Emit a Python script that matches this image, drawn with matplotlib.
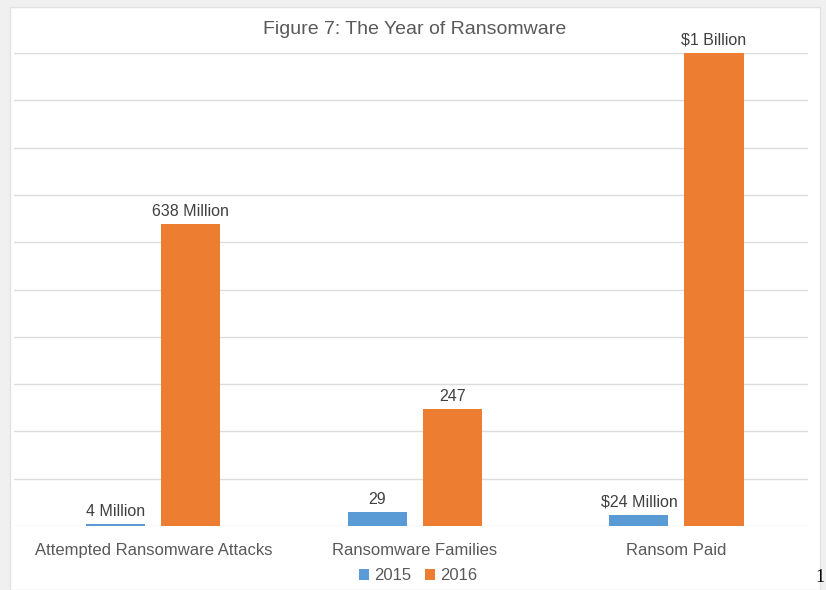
import matplotlib.pyplot as plt
from matplotlib.patches import Rectangle
import numpy as np

categories = ["Attempted Ransomware Attacks", "Ransomware Families", "Ransom Paid"]
years = ["2015", "2016"]
# bar heights as drawn on the chart (in grid units), labels shown separately
values_2015 = [0.04, 0.29, 0.24]
values_2016 = [6.38, 2.47, 10.0]
labels_2015 = ["4 Million", "29", "$24 Million"]
labels_2016 = ["638 Million", "247", "$1 Billion"]

blue = "#5B9BD5"
orange = "#ED7D31"
text_color = "#595959"

plt.rcParams["font.family"] = ["Liberation Sans", "DejaVu Sans"]

fig = plt.figure(figsize=(8.26, 5.90), dpi=100)
fig.patch.set_facecolor("#f0f0f0")
fig.patches.append(Rectangle((10 / 826, 0), 810 / 826, 583 / 590,
                             transform=fig.transFigure, facecolor="white",
                             edgecolor="#e2e2e2", linewidth=1, zorder=-1))

ax = fig.add_axes([14 / 826, 1 - 526 / 590, 794 / 826, 473 / 590])
ax.set_facecolor("none")

x = np.arange(len(categories))
width = 0.226
offset = 0.1435
bars1 = ax.bar(x - offset, values_2015, width, color=blue, label=years[0], zorder=3)
bars2 = ax.bar(x + offset, values_2016, width, color=orange, label=years[1], zorder=3)

for bar, lab in zip(bars1, labels_2015):
    ax.annotate(lab, (bar.get_x() + bar.get_width() / 2, bar.get_height()),
                xytext=(0, 4), textcoords="offset points", ha="center", va="bottom",
                fontsize=11.5, color="#404040")
for bar, lab in zip(bars2, labels_2016):
    ax.annotate(lab, (bar.get_x() + bar.get_width() / 2, bar.get_height()),
                xytext=(0, 4), textcoords="offset points", ha="center", va="bottom",
                fontsize=11.5, color="#404040")

ax.set_xlim(-0.533, 2.503)
ax.set_ylim(0, 10)
ax.set_yticks(np.arange(0, 11, 1))
ax.yaxis.grid(True, color="#dcdcdc", linewidth=1, zorder=0)
ax.set_yticklabels([])
ax.set_xticks(x)
ax.set_xticklabels(categories, fontsize=12, color=text_color)
ax.tick_params(axis="both", length=0)
ax.tick_params(axis="x", pad=12)
for s in ax.spines.values():
    s.set_visible(False)

fig.text(415 / 826, 1 - 29 / 590, "Figure 7: The Year of Ransomware",
         ha="center", va="center", fontsize=14, color=text_color)

fig.legend(loc="center", bbox_to_anchor=(418 / 826, 1 - 576 / 590), ncol=2,
           frameon=False, fontsize=12, handlelength=0.6, handleheight=0.6,
           handletextpad=0.3, columnspacing=0.8, labelcolor=text_color)

fig.text(825 / 826, 1 - 577 / 590, "1", ha="right", va="center",
         fontsize=13, family=["Liberation Serif", "DejaVu Serif"], color="black")

fig.savefig("out.png", dpi=100, facecolor=fig.get_facecolor())
